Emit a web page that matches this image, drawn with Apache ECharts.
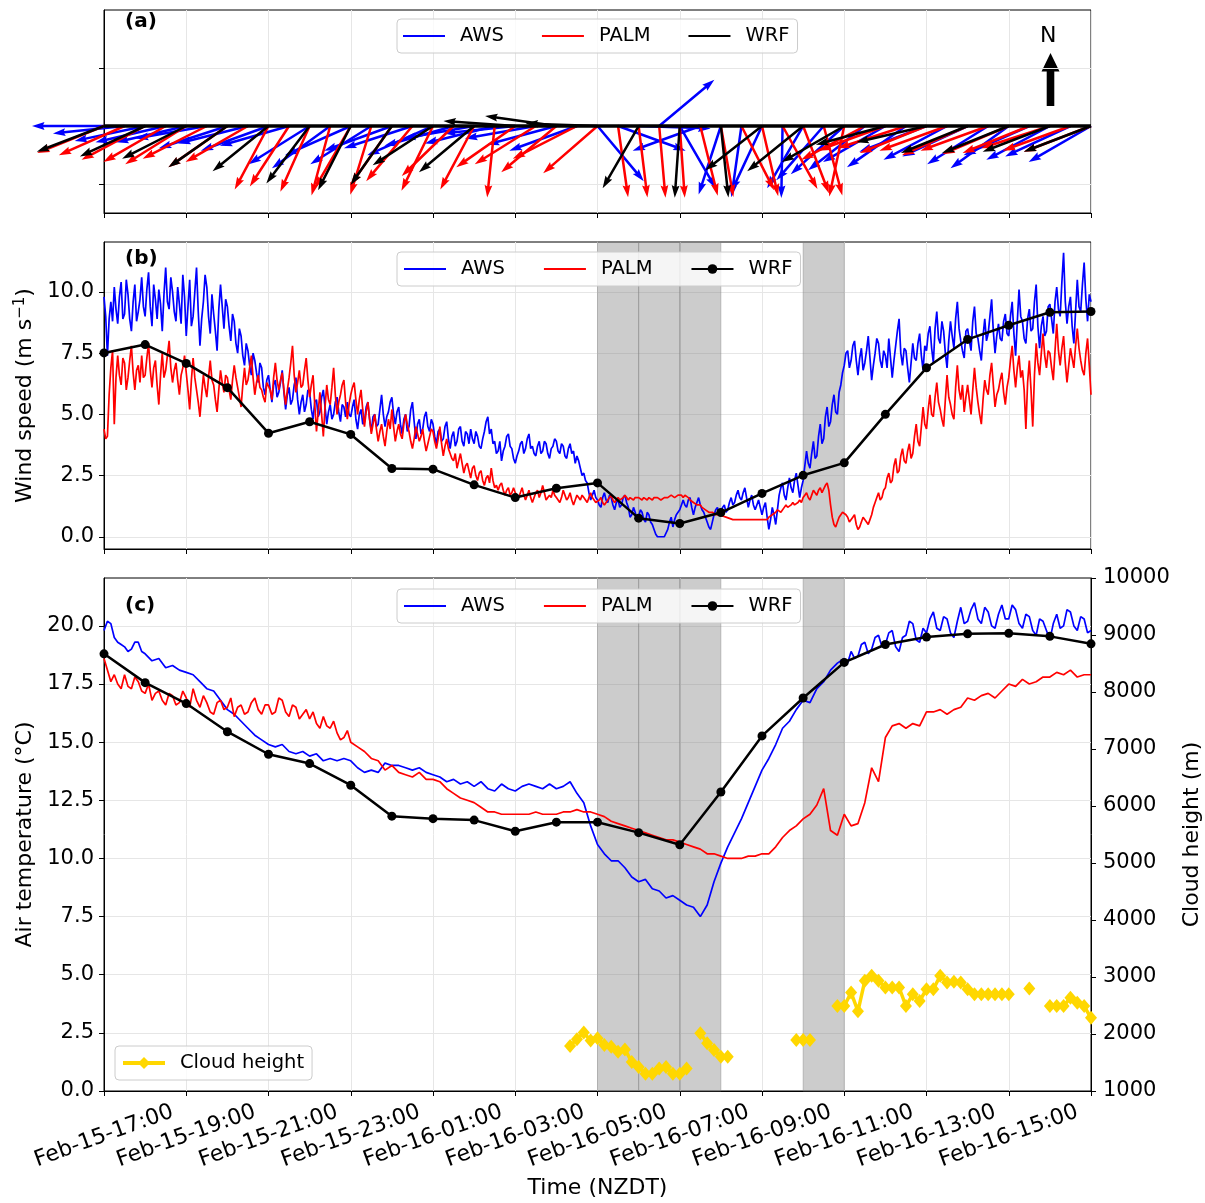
<!DOCTYPE html>
<html><head><meta charset="utf-8">
<script src="https://cdn.jsdelivr.net/npm/echarts@6/dist/echarts.min.js"></script>
<style>html,body{margin:0;padding:0;background:#fff}#chart{width:1205px;height:1203px}</style>
</head><body><div id="chart"></div>
<script>
// ---------- DATA (hours since Feb-15 17:00 NZDT) ----------
// Wind direction (deg, meteorological "from") every 30 min (AWS, PALM) and hourly (WRF)
const awsDir = [90,84,78,77,77,80,72,76,70,74, 58,54,66,58,70,72,66,74,80,76,
  84,80,75,70,320,290,272,230,330,70, 18,8,25,1,30,41,48,52,60,55, 69,62,65,58,54,66,62,65,60];
const palmDir = [68,66,62,60,58,63,55,60,28,33, 24,15,30,17,35,40,26,46,28,6,
  55,58,50,63,49,352,353,355,356,346, 350,333,347,331,339,345,12,62,70,72, 68,70,66,70,67,68,72,70,69];
const wrfDir = [69,65,63,55,51,37,27,35,57,50,94,98,92,30,4,354,52,51,60,75,77,68,68,69,69];

// Wind speed (m/s): one row per hour (samples evenly spaced within the hour), then the final value
const awsSpeedRows = [
[9.8,9.0,7.4,8.9,9.6,8.8,10.2,9.3,8.7,9.8,10.4,8.9,9.1,10.5,9.9,8.9,8.4,9.6,10.3,8.8,9.2,9.7,10.6,9.4],
[9.0,10.1,10.8,9.4,8.6,10.3,9.7,8.9,10.1,9.5,8.4,9.9,11.0,9.6,9.3,10.6,10.0,9.2,8.8,10.2,9.5,8.7,10.7,9.8],
[8.2,9.4,10.5,8.6,9.0,10.0,11.0,9.2,7.8,8.9,9.6,10.7,10.2,9.0,8.3,9.9,9.1,8.4,7.6,9.3,10.3,9.4,8.5,9.7],
[9.4,8.6,8.0,9.1,8.8,7.9,7.5,8.5,8.2,7.4,7.0,7.9,7.6,7.0,6.6,7.5,7.2,6.7,6.3,7.1,6.9,6.1,5.8,6.4],
[6.6,6.0,5.5,6.2,6.4,5.7,5.9,6.3,6.8,5.9,5.2,5.8,6.1,5.4,5.6,6.2,6.5,5.6,5.0,5.5,5.8,5.1,5.4,6.0],
[5.9,5.2,4.8,5.5,5.6,4.9,5.1,5.7,6.0,5.3,4.6,5.1,5.4,4.8,5.0,5.5,5.7,5.1,4.7,5.4,5.3,4.9,5.5,5.0],
[4.9,5.3,5.6,4.8,4.4,5.0,5.2,4.6,4.7,5.3,5.5,4.8,4.3,4.9,5.0,4.5,4.6,5.2,5.8,5.0,4.5,4.9,5.1,5.5],
[5.7,5.0,4.6,5.1,5.3,4.6,4.2,4.8,5.0,4.3,4.5,5.2,5.5,4.7,4.0,4.6,4.8,4.2,4.4,4.9,5.1,4.5,4.3,4.8],
[4.6,4.1,3.8,4.3,4.4,3.9,4.0,4.5,4.7,4.0,3.6,4.1,4.3,3.7,3.9,4.4,4.5,3.9,3.7,4.3,4.2,3.8,4.4,4.0],
[3.8,4.3,4.1,3.7,3.6,4.0,4.3,4.7,4.9,4.2,4.4,3.8,3.9,3.4,3.5,3.9,3.1,3.5,3.7,4.1,4.2,3.7,3.6,3.2],
[3.0,3.3,3.5,3.8,3.9,3.4,3.6,4.0,4.2,3.6,3.7,3.4,3.3,3.7,3.9,3.4,3.5,3.9,3.8,3.4,3.2,3.6,3.7,4.0],
[3.9,3.5,3.4,3.8,3.7,3.3,3.2,3.6,3.8,3.4,3.5,3.0,3.3,3.1,2.8,2.5,2.6,2.3,2.2,1.8,1.5,1.7,1.9,1.6],
[1.5,1.3,1.2,1.6,1.8,1.5,1.4,1.7,1.6,1.3,1.1,1.4,1.5,1.2,1.3,1.6,1.7,1.4,1.2,0.8,0.9,1.2,1.0,0.7],
[0.8,1.1,1.0,0.7,0.6,1.0,0.9,0.6,0.5,0.3,0.1,0.0,0.0,0.0,0.05,0.0,0.0,0.3,0.6,0.8,0.4,0.7,0.9,1.0],
[1.1,1.3,1.5,1.3,1.2,1.5,1.6,1.2,0.9,1.2,1.4,1.6,1.3,1.1,1.0,0.8,0.6,0.4,0.3,0.6,0.9,1.1,1.2,0.9],
[1.0,1.2,1.3,1.0,1.1,1.4,1.6,1.3,1.4,1.7,1.9,1.6,1.5,1.8,2.0,1.6,1.2,1.5,1.7,1.3,1.1,1.3,1.5,1.2],
[0.9,1.2,1.4,0.8,0.3,0.7,1.2,0.9,0.5,1.1,1.7,2.0,2.2,1.7,1.5,2.0,2.4,2.0,1.8,2.3,2.6,2.1,1.6,2.0],
[2.3,2.9,3.5,3.0,2.8,3.4,3.9,3.2,3.3,4.1,4.6,3.8,4.0,4.9,5.3,4.5,4.7,5.4,5.8,5.1,5.0,5.9,6.2,6.7],
[7.0,7.5,7.6,6.9,7.2,7.8,8.0,7.2,6.6,7.3,7.7,6.8,7.1,7.6,8.2,7.3,6.4,7.0,7.5,8.1,7.9,7.2,6.9,7.6],
[7.4,6.9,8.1,7.3,6.5,7.2,7.8,8.4,8.9,7.5,7.0,7.7,7.6,6.9,6.3,7.1,7.9,7.3,7.2,7.9,8.3,7.4,6.8,7.8],
[7.6,8.3,8.6,7.7,7.1,8.5,9.2,8.1,7.9,8.8,8.4,7.5,6.9,8.0,8.8,8.2,7.7,8.9,9.6,8.5,8.0,7.6,7.3,8.4],
[8.5,8.0,7.6,8.8,9.4,8.3,8.1,7.6,7.2,8.2,8.9,8.0,8.3,9.0,9.7,8.4,7.5,8.2,8.7,8.1,8.0,8.8,9.1,8.3],
[8.2,9.0,9.6,8.3,7.4,8.8,10.1,9.0,8.8,8.1,7.9,8.9,9.3,8.4,8.5,9.6,10.3,8.6,7.7,8.6,9.0,8.2,8.4,9.4],
[9.5,8.9,8.3,9.6,10.2,9.3,9.0,10.4,11.6,9.6,8.7,9.4,9.8,8.6,7.9,9.2,10.5,9.4,9.2,10.3,11.2,9.7,8.8,9.9]];
const awsSpeedEnd = 9.6;
const palmSpeedRows = [
[4.4,4.0,4.1,5.8,6.9,7.6,4.6,6.5,7.4,6.6,6.2,7.3,7.1,6.0,6.5,7.2,7.8,6.7,6.0,6.8,7.0,6.3,7.4,6.5],
[6.6,7.3,7.9,6.8,6.1,6.9,7.2,6.2,5.4,6.6,7.5,6.5,6.8,7.4,8.0,6.9,6.3,6.8,7.1,6.4,5.8,6.6,6.9,7.4],
[6.7,6.0,5.2,6.4,7.3,6.5,6.0,5.5,4.9,5.8,6.6,6.1,5.7,6.5,7.2,6.4,6.2,5.6,5.1,6.0,6.8,6.3,5.9,6.6],
[6.5,6.0,5.6,6.4,7.0,6.5,6.1,5.7,5.3,6.2,6.9,6.2,6.4,6.9,7.4,6.5,5.8,6.3,6.6,6.1,6.0,5.7,5.5,6.3],
[6.3,6.0,5.6,6.5,7.1,6.4,6.0,6.4,6.7,6.0,5.4,6.0,6.5,7.1,7.8,6.6,5.9,6.3,6.8,6.1,6.2,6.8,7.3,6.4],
[5.7,6.2,6.6,5.4,4.3,5.1,5.9,5.0,4.1,5.3,6.2,5.6,5.4,6.1,6.9,5.8,5.0,5.5,5.8,6.2,6.4,5.5,4.8,5.4],
[5.8,6.1,6.3,5.6,5.0,5.6,6.0,5.2,4.5,5.1,5.5,4.8,4.2,4.6,5.0,4.4,3.9,4.3,4.6,4.1,3.7,4.3,4.8,4.4],
[5.2,4.5,3.9,4.3,4.6,4.2,4.0,4.6,5.0,4.6,4.3,3.9,3.6,4.0,4.5,4.2,3.9,4.1,4.4,3.9,3.5,3.8,4.1,4.4],
[4.3,3.9,3.6,4.0,4.5,3.8,3.3,3.7,4.0,3.6,3.4,3.2,3.1,3.4,2.8,3.1,3.4,3.0,2.6,2.9,3.0,2.7,2.4,2.8],
[2.9,2.5,2.3,2.6,2.7,2.3,2.1,2.4,2.5,2.2,2.8,2.3,2.0,2.1,1.9,2.1,2.2,1.9,1.7,1.9,2.0,1.7,1.8,2.0],
[1.8,1.7,1.6,1.8,2.0,1.7,1.5,1.7,1.9,1.6,1.4,1.6,1.8,1.9,1.6,1.8,2.1,1.8,1.5,1.6,1.7,1.6,1.9,1.7],
[1.6,1.5,1.4,1.6,1.9,1.7,1.5,1.6,1.8,1.5,1.3,1.5,1.7,1.6,1.5,1.7,1.6,1.5,1.4,1.6,1.8,1.6,1.5,1.4],
[1.4,1.5,1.6,1.4,1.3,1.4,1.5,1.6,1.7,1.5,1.4,1.5,1.6,1.5,1.5,1.6,1.7,1.6,1.5,1.6,1.6,1.5,1.6,1.6],
[1.6,1.6,1.5,1.6,1.6,1.5,1.6,1.6,1.5,1.6,1.6,1.6,1.6,1.5,1.5,1.6,1.6,1.6,1.6,1.7,1.7,1.6,1.6,1.7],
[1.7,1.7,1.6,1.7,1.7,1.6,1.5,1.5,1.4,1.4,1.3,1.3,1.3,1.2,1.2,1.1,1.1,1.0,1.0,1.0,1.0,0.9,0.9,0.9],
[0.9,0.85,0.8,0.8,0.8,0.75,0.7,0.7,0.7,0.7,0.7,0.7,0.7,0.7,0.7,0.7,0.7,0.7,0.7,0.7,0.7,0.7,0.7,0.7],
[0.7,0.7,0.7,0.7,0.8,0.8,0.9,0.9,1.0,1.1,1.1,1.0,1.0,1.2,1.3,1.2,1.2,1.3,1.4,1.3,1.3,1.4,1.5,1.4],
[1.6,1.7,1.8,1.6,1.5,1.7,1.9,1.8,1.7,1.9,2.0,1.8,1.8,2.1,2.2,1.9,1.3,0.8,0.5,0.4,0.6,0.8,0.9,1.0],
[1.0,0.9,0.8,0.6,0.6,0.8,0.9,0.5,0.3,0.4,0.6,0.8,0.8,0.6,0.5,0.7,0.9,1.2,1.4,1.6,1.8,1.5,1.6,1.9],
[2.0,2.4,2.6,2.2,2.3,2.9,3.2,2.6,2.7,3.3,3.6,3.1,3.0,3.5,3.8,3.2,3.4,4.1,4.6,3.9,3.7,4.5,5.3,4.6],
[4.4,5.2,5.8,5.0,4.9,5.7,6.3,5.5,5.2,4.8,4.5,5.6,6.6,5.7,5.4,5.0,4.8,6.1,7.0,6.0,5.6,6.2,5.1,5.7],
[6.2,5.6,5.0,6.0,6.9,6.1,5.5,5.0,4.6,5.6,6.4,6.0,5.8,6.6,7.1,6.2,5.3,5.8,6.0,6.4,6.7,5.9,5.4,6.1],
[6.5,7.2,7.8,6.8,6.1,6.9,7.4,6.5,6.8,6.0,4.4,6.3,7.2,6.0,4.5,6.6,7.9,7.1,6.6,7.5,8.3,7.4,6.9,7.6],
[7.5,6.9,6.4,7.6,8.7,7.6,7.0,7.7,8.2,7.1,6.3,7.0,7.7,7.3,6.9,7.8,8.5,7.7,7.2,6.8,6.6,7.5,8.1,7.0]];
const palmSpeedEnd = 5.8;
const wrfSpeed = [7.51,7.85,7.08,6.09,4.23,4.70,4.18,2.79,2.76,2.12,1.60,1.98,2.20,0.76,0.54,0.99,1.77,2.51,3.02,5.00,6.90,8.06,8.64,9.17,9.20];

// Air temperature (deg C): one row per hour, then the final value
const awsTempRows = [
[19.8,20.2,20.1,19.5,19.3,19.2,19.1,18.9,19.0,19.3,19.3,18.9],
[18.8,18.5,18.6,18.2,18.3,18.1],
[18.0,17.9,17.6,17.3,17.2,16.8],
[16.4,16.2,15.9,15.6,15.3,15.1],
[14.9,14.8,14.9,14.6,14.5,14.6],
[14.4,14.5,14.2,14.3,14.2,14.3],
[14.2,13.9,13.7,13.8,13.7,14.1],
[14.0,14.0,13.9,13.8,13.9,13.7],
[13.6,13.5,13.3,13.4,13.2,13.3],
[13.1,13.3,13.0,12.9,13.2,13.0],
[12.9,13.1,13.2,13.1,13.0,13.2],
[13.0,13.1,13.3,12.8,12.4,11.4],
[10.6,10.2,9.9,9.9,9.6,9.2],
[9.0,9.1,8.7,8.6,8.3,8.4],
[8.2,8.0,7.9,7.5,8.0,9.0],
[9.8,10.5,11.1,11.7,12.4,13.1],
[13.8,14.3,14.9,15.6,15.9,16.4],
[16.8,16.7,17.3,17.6,18.1,18.4],
[18.6,18.4,18.9,18.6,18.7,19.2,19.3,18.8,19.0,19.5,19.6,19.1],
[19.2,19.7,19.8,19.1,18.9,19.5,19.6,20.2,20.1,19.4,19.3,19.9],
[19.7,20.3,20.6,19.9,19.8,20.4,20.3,19.7,19.5,20.2,20.8,20.1],
[20.2,20.7,21.0,20.3,20.1,20.8,20.6,20.0,19.9,20.5,20.9,20.3],
[20.3,20.9,20.7,20.1,19.9,20.5,20.4,19.8,19.6,20.3,20.2,19.8],
[19.4,20.1,20.5,19.9,20.0,20.7,20.6,20.0,19.8,20.4,20.3,19.7]];
const awsTempEnd = 19.8;
const palmTempRows = [
[18.6,18.1,17.6,17.9,17.5,17.3,17.9,17.4,17.3,17.8,17.6,17.2],
[17.1,17.5,16.8,17.1,17.2,16.8,16.6,17.1,17.0,16.6,16.7,17.2],
[16.9,16.5,17.3,16.8,16.5,17.0,16.7,16.3,16.2,16.7,16.8,16.4],
[16.5,16.9,16.1,16.5,16.6,16.2,16.3,16.7,16.9,16.4,16.2,16.6],
[16.6,16.2,16.3,16.9,16.8,16.3,16.1,16.6,16.5,16.0,16.2,16.4],
[16.0,16.3,15.8,15.6,16.1,15.7,15.6,15.9,15.4,15.1,15.2,15.5],
[15.0,14.8,14.6,14.3,14.2,13.8],
[14.0,13.7,13.6,13.5,13.7,13.4],
[13.4,13.3,13.0,12.8,12.6,12.5],
[12.4,12.2,12.0,12.0,11.9,11.9],
[11.9,11.9,11.9,12.0,11.9,11.9],
[11.9,12.0,12.0,12.1,12.0,12.0],
[11.9,11.8,11.6,11.5,11.4,11.3],
[11.2,11.1,11.0,10.9,10.8,10.8],
[10.7,10.6,10.5,10.4,10.2,10.2],
[10.1,10.0,10.0,10.0,10.1,10.1],
[10.2,10.2,10.5,10.9,11.2,11.4],
[11.7,11.9,12.3,13.0,11.2,11.0],
[11.9,11.4,11.5,12.4,13.9,13.3],
[15.2,15.7,15.8,15.6,15.8,15.7],
[16.3,16.3,16.4,16.2,16.4,16.5],
[16.9,16.8,17.0,17.1,16.9,17.2],
[17.5,17.4,17.7,17.5,17.6,17.8],
[17.8,18.0,17.9,18.1,17.8,17.9]];
const palmTempEnd = 17.9;
const wrfTemp = [18.80,17.56,16.66,15.45,14.48,14.08,13.15,11.82,11.71,11.65,11.17,11.56,11.56,11.11,10.59,12.86,15.27,16.90,18.43,19.20,19.52,19.66,19.68,19.55,19.23];

// Cloud height (m) every 10 min from Feb-16 04:20, null = no cloud detected
const cloudStartHour = 11 + 20 / 60;
const cloudHeight = [
1790,1910,2026,1884,1926,1807,1777,1690,1730,1510,
1421,1303,1303,1393,1421,1303,1303,1393,null,2015,
1837,1720,1600,1600,null,null,null,null,null,null,
null,null,null,1896,1896,1896,null,null,null,2490,
2490,2726,2400,2934,3023,2934,2816,2816,2816,2490,
2697,2579,2786,2786,3023,2904,2916,2904,2786,2697,
2697,2697,2697,2697,2697,null,null,2798,null,null,
2490,2490,2490,2638,2550,2490,2283];

// Shaded periods (hours since Feb-15 17:00)
const shadeStart = [12, 13, 14, 17];
const shadeEnd   = [13, 14, 15, 18];

// Tick values
const speedTicks = [0, 2.5, 5, 7.5, 10];
const tempTicks = [0, 2.5, 5, 7.5, 10, 12.5, 15, 17.5, 20];
const vecTicks = [-1, 0, 1];

// ---------- CHART ----------
const FONT = 'DejaVu Sans';
const BLUE = '#0000ff', RED = '#ff0000', BLACK = '#000000', GOLD = '#ffd700';
const GRID_COLOR = '#e6e6e6';
function fromRows(rows, endVal) {
  const out = [];
  rows.forEach((r, h) => r.forEach((v, j) => out.push([h + j / r.length, v])));
  out.push([rows.length, endVal]);
  return out;
}
const seriesH = arr => arr.map((v, i) => [i, v]);

function arrowRender(params, api) {
  const t = api.value(0);
  const d = api.value(2) * Math.PI / 180;
  const p = api.coord([t, 0]);
  const ex = -Math.sin(d), ey = Math.cos(d);
  const nx = -ey, ny = ex;
  const L = 72, w = 1.25, hw = 3.9, hl = 12.5, ha = 11.2;
  const at = (a, b) => [p[0] + ex * a + nx * b, p[1] + ey * a + ny * b];
  const pts = [at(0, w), at(L - ha, w), at(L - hl, hw), at(L, 0), at(L - hl, -hw), at(L - ha, -w), at(0, -w)];
  return { type: 'polygon', shape: { points: pts }, style: { fill: api.visual('color') } };
}
function arrowSeries(name, dirs, step, color) {
  return {
    type: 'custom', name, xAxisIndex: 0, yAxisIndex: 0, clip: false,
    itemStyle: { color }, encode: { x: 0, y: 1 },
    data: dirs.map((d, i) => [i * step, 0, d]),
    renderItem: arrowRender, silent: true
  };
}
function timeLabel(v) {
  if (v >= 24) return '';
  const h = 17 + v;
  const day = h >= 24 ? 16 : 15;
  const hh = h % 24;
  return 'Feb-' + day + '-' + String(hh).padStart(2, '0') + ':00';
}
const shadeArea = {
  silent: true,
  itemStyle: { color: 'rgba(128,128,128,0.4)', borderColor: 'rgba(128,128,128,0.4)', borderWidth: 1 },
  data: shadeStart.map((s, i) => [{ xAxis: s }, { xAxis: shadeEnd[i] }])
};

const grids = [
  { left: 104, top: 10, width: 987, height: 203 },
  { left: 104, top: 242, width: 987, height: 307 },
  { left: 104, top: 578, width: 987, height: 513 }
].map(g => Object.assign(g, { show: true, borderColor: '#000', borderWidth: 1, backgroundColor: 'transparent',
  containLabel: false, outerBoundsMode: 'none' }));

const xAxes = [0, 1, 2].map(i => ({
  type: 'value', gridIndex: i, min: 0, max: 24, interval: 2,
  axisLine: { show: true, onZero: false, lineStyle: { color: '#000', width: 1 } },
  axisTick: { show: true, length: 5, lineStyle: { color: '#000', width: 1 } },
  splitLine: { show: true, lineStyle: { color: GRID_COLOR, width: 1 } },
  axisLabel: i === 2 ? {
    show: true, rotate: 20, align: 'center', verticalAlign: 'middle', margin: 45,
    fontFamily: FONT, fontSize: 22, color: '#000', formatter: timeLabel,
    showMinLabel: true, showMaxLabel: true
  } : { show: false },
  name: i === 2 ? 'Time (NZDT)' : '',
  nameLocation: 'middle', nameGap: 86,
  nameTextStyle: { fontFamily: FONT, fontSize: 22, color: '#000' }
}));

const yCommon = {
  axisLine: { show: true, onZero: false, lineStyle: { color: '#000', width: 1 } },
  splitLine: { show: true, lineStyle: { color: GRID_COLOR, width: 1 } }
};
const yAxes = [
  Object.assign({}, yCommon, {
    type: 'value', gridIndex: 0, min: -1.5, max: 2.0,
    axisTick: { show: true, length: 5, customValues: vecTicks, lineStyle: { color: '#000' } },
    axisLabel: { show: false, customValues: vecTicks }
  }),
  Object.assign({}, yCommon, {
    type: 'value', gridIndex: 1, min: -0.5, max: 12.04,
    axisTick: { show: true, length: 5, customValues: speedTicks, lineStyle: { color: '#000' } },
    axisLabel: { show: true, customValues: speedTicks, margin: 10, fontFamily: FONT, fontSize: 21, color: '#000',
      formatter: v => v.toFixed(1) },
    name: '{n|Wind speed (m s}{s|\u22121}{n|)}', nameLocation: 'middle', nameGap: 64,
    nameTextStyle: { color: '#000', rich: {
      n: { fontFamily: FONT, fontSize: 22, color: '#000', lineHeight: 26 },
      s: { fontFamily: FONT, fontSize: 15, color: '#000', verticalAlign: 'top', lineHeight: 20 } } }
  }),
  Object.assign({}, yCommon, {
    type: 'value', gridIndex: 2, min: 0, max: 22.06,
    axisTick: { show: true, length: 5, customValues: tempTicks, lineStyle: { color: '#000' } },
    axisLabel: { show: true, customValues: tempTicks, margin: 10, fontFamily: FONT, fontSize: 21, color: '#000',
      formatter: v => v.toFixed(1) },
    name: 'Air temperature (\u00b0C)', nameLocation: 'middle', nameGap: 64,
    nameTextStyle: { fontFamily: FONT, fontSize: 22, color: '#000' }
  }),
  {
    type: 'value', gridIndex: 2, position: 'right', min: 1000, max: 10000, interval: 1000,
    axisLine: { show: true, onZero: false, lineStyle: { color: '#000', width: 1 } },
    axisTick: { show: true, length: 5, lineStyle: { color: '#000' } },
    splitLine: { show: false },
    axisLabel: { show: true, margin: 12, fontFamily: FONT, fontSize: 21, color: '#000', formatter: v => String(v) },
    name: 'Cloud height (m)', nameLocation: 'middle', nameGap: 90,
    nameTextStyle: { fontFamily: FONT, fontSize: 22, color: '#000' }
  }
];

function lineSeries(name, data, color, xi, yi, extra) {
  return Object.assign({
    type: 'line', name, data, xAxisIndex: xi, yAxisIndex: yi,
    symbol: 'none', showSymbol: false, color,
    lineStyle: { color, width: 1.7 }, silent: true
  }, extra || {});
}
const wrfStyle = {
  symbol: 'circle', showSymbol: true, symbolSize: 9,
  lineStyle: { color: BLACK, width: 2.5 }, itemStyle: { color: BLACK }
};

const wrfArrows = arrowSeries('WRF_a', wrfDir, 1, BLACK);
wrfArrows.markLine = {
  silent: true, symbol: ['none', 'none'], z: 10,
  label: { show: false },
  lineStyle: { color: '#000', width: 3.5, type: 'solid' },
  data: [{ yAxis: 0 }]
};

const seriesList = [
  arrowSeries('AWS_a', awsDir, 0.5, BLUE),
  arrowSeries('PALM_a', palmDir, 0.5, RED),
  wrfArrows,
  lineSeries('AWS_b', fromRows(awsSpeedRows, awsSpeedEnd), BLUE, 1, 1, { markArea: shadeArea }),
  lineSeries('PALM_b', fromRows(palmSpeedRows, palmSpeedEnd), RED, 1, 1),
  lineSeries('WRF_b', seriesH(wrfSpeed), BLACK, 1, 1, wrfStyle),
  lineSeries('AWS_c', fromRows(awsTempRows, awsTempEnd), BLUE, 2, 2, { markArea: shadeArea }),
  lineSeries('PALM_c', fromRows(palmTempRows, palmTempEnd), RED, 2, 2),
  lineSeries('WRF_c', seriesH(wrfTemp), BLACK, 2, 2, wrfStyle),
  lineSeries('Cloud height', cloudHeight.map((h, i) => [cloudStartHour + i / 6, h == null ? '-' : h]), GOLD, 2, 3, {
    symbol: 'diamond', showSymbol: true, symbolSize: [12, 14], connectNulls: false,
    lineStyle: { color: GOLD, width: 3.5 }, itemStyle: { color: GOLD }
  })
];

const noMark = { opacity: 0, borderWidth: 0 };
const legendBase = {
  orient: 'horizontal', selectedMode: false, itemWidth: 42, itemHeight: 12, itemGap: 38,
  padding: [6, 8, 6, 6], backgroundColor: 'rgba(255,255,255,0.8)', borderColor: '#cccccc',
  borderWidth: 1, borderRadius: 4,
  textStyle: { fontFamily: FONT, fontSize: 19.5, color: '#000', lineHeight: 22, padding: [0, 0, 0, 10] },
  formatter: n => n.replace(/_[abc]$/, '')
};
const legends = [
  Object.assign({}, legendBase, { left: 397, top: 19, data: ['AWS_a', 'PALM_a', 'WRF_a'], icon: 'rect', itemHeight: 2 }),
  Object.assign({}, legendBase, { left: 397, top: 252, data: [
    { name: 'AWS_b', itemStyle: noMark, lineStyle: { width: 2 } }, { name: 'PALM_b', itemStyle: noMark, lineStyle: { width: 2 } }, 'WRF_b'] }),
  Object.assign({}, legendBase, { left: 397, top: 589, data: [
    { name: 'AWS_c', itemStyle: noMark, lineStyle: { width: 2 } }, { name: 'PALM_c', itemStyle: noMark, lineStyle: { width: 2 } }, 'WRF_c'] }),
  Object.assign({}, legendBase, { left: 115, top: 1046, data: [{ name: 'Cloud height', lineStyle: { width: 4 } }], itemHeight: 15 })
];

const titleStyle = { fontFamily: FONT, fontSize: 20, fontWeight: 'bold', color: '#000' };
const option = {
  animation: false,
  backgroundColor: '#fff',
  textStyle: { fontFamily: FONT },
  title: [
    { text: '(a)', left: 125, top: 12, padding: 0, textStyle: titleStyle },
    { text: '(b)', left: 125, top: 249, padding: 0, textStyle: titleStyle },
    { text: '(c)', left: 125, top: 596, padding: 0, textStyle: titleStyle }
  ],
  grid: grids,
  xAxis: xAxes,
  yAxis: yAxes,
  legend: legends,
  series: seriesList,
  graphic: [
    { type: 'text', left: 1040, top: 25, style: { text: 'N', fontFamily: FONT, fontSize: 22, fill: '#000' } },
    { type: 'polygon', shape: { points: [[1046.7, 106], [1054.3, 106], [1054.3, 71.5], [1059.5, 71.5], [1050.5, 53], [1041.5, 71.5], [1046.7, 71.5]] },
      style: { fill: '#000' } }
  ]
};
const chart = echarts.init(document.getElementById('chart'), null, { renderer: 'canvas' });
chart.setOption(option);
</script></body></html>
